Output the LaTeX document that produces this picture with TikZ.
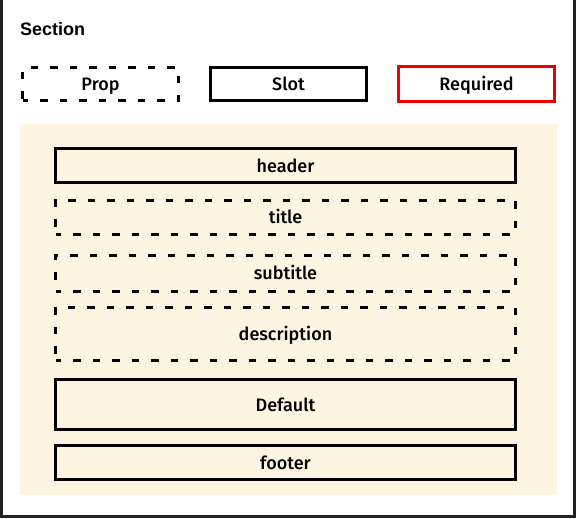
\documentclass[tikz,border=0pt]{standalone}
\usepackage{fontspec}
\setmainfont{Liberation Sans}
\newfontfamily\medfont{Fira Sans Medium}
\definecolor{beige}{HTML}{FDF5E2}
\definecolor{framegray}{HTML}{222222}
\definecolor{reqred}{HTML}{EE0000}
\tikzset{
  lbl/.style={font=\medfont\fontsize{18}{21}\selectfont, text=black, inner sep=0pt, text height=15pt, text depth=2pt},
  slotbox/.style={lbl, draw=black, line width=3pt, rectangle},
  propbox/.style={lbl, draw=black, line width=3pt, rectangle, dash pattern=on 7.5pt off 12pt, dash phase=2pt},
  reqbox/.style={lbl, draw=reqred, line width=3pt, rectangle},
}
\begin{document}
\begin{tikzpicture}[x=1pt,y=-1pt]
\useasboundingbox (0,0) rectangle (578,519);
% outer frame
\draw[framegray, line width=3pt] (1.5,-3) -- (1.5,516.5) -- (574.5,516.5) -- (574.5,-3);
% title
\node[anchor=west, font=\fontsize{18}{21}\selectfont\bfseries, inner sep=0pt] (sec) at (20,29.5) {Section};
% legend
\node[propbox, minimum width=156pt, minimum height=33pt] (prop) at (100.5,84) {Prop};
\node[slotbox, minimum width=156pt, minimum height=33pt] (slot) at (288.5,84) {Slot};
\node[reqbox, minimum width=156pt, minimum height=34pt] (req) at (476.5,84) {Required};
% beige area
\fill[beige] (20,124) rectangle (557,495);
% content boxes
\node[slotbox, minimum width=460pt, minimum height=34pt] (header) at (285.5,165.5) {header};
\node[propbox, minimum width=460pt, minimum height=34pt] (title) at (285.5,217) {title};
\node[propbox, minimum width=460pt, minimum height=36pt] (subtitle) at (285.5,273) {subtitle};
\node[propbox, minimum width=460pt, minimum height=53pt] (description) at (285.5,333.5) {description};
\node[slotbox, minimum width=460pt, minimum height=50pt] (default) at (285.5,404.5) {Default};
\node[slotbox, minimum width=460pt, minimum height=34pt] (footer) at (285.5,462.5) {footer};
\end{tikzpicture}
\end{document}
